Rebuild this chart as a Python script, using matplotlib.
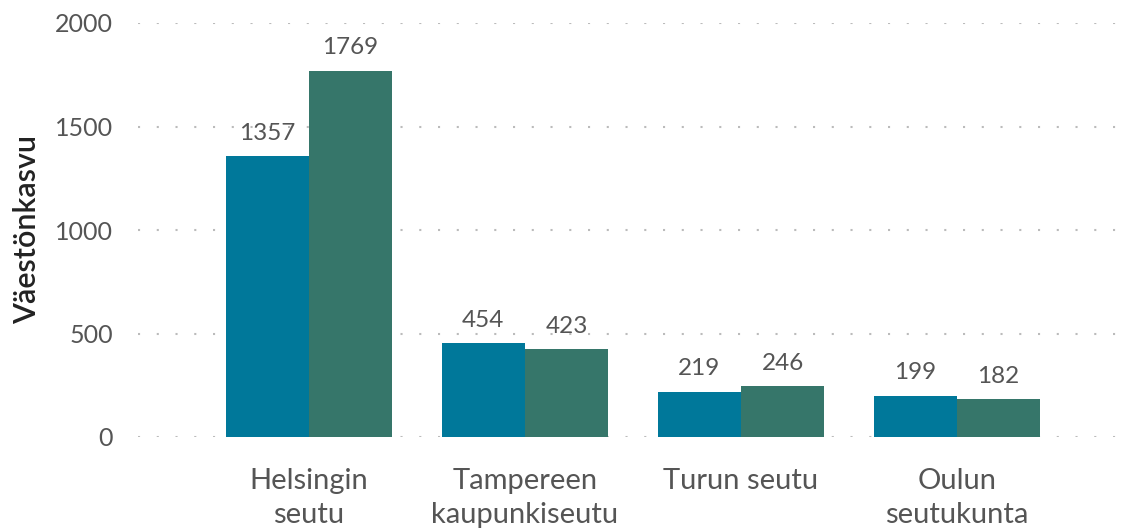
import numpy as np
import matplotlib
matplotlib.use("Agg")
import matplotlib.pyplot as plt

# data
regions = ["Helsingin\nseutu", "Tampereen\nkaupunkiseutu", "Turun seutu", "Oulun\nseutukunta"]
series_a = [1357, 454, 219, 199]
series_b = [1769, 423, 246, 182]
yticks = [0, 500, 1000, 1500, 2000]

BLUE = "#00789A"
GREEN = "#36766A"
GREY = "#555555"

plt.rcParams["font.family"] = ["Lato", "DejaVu Sans"]

fig = plt.figure(figsize=(11.22, 5.31), dpi=100)
ax = fig.add_axes([138 / 1122, 1 - 437 / 531, (1118 - 138) / 1122, 414 / 531])

x = np.arange(len(regions))
w = 0.385
ba = ax.bar(x - w / 2, series_a, w, color=BLUE)
bb = ax.bar(x + w / 2, series_b, w, color=GREEN)
for bars, vals in ((ba, series_a), (bb, series_b)):
    for rect, v in zip(bars, vals):
        ax.annotate(f"{v}", (rect.get_x() + rect.get_width() / 2, v),
                    xytext=(0, 9), textcoords="offset points",
                    ha="center", va="bottom", fontsize=17.5, color=GREY)

ax.set_xlim(-0.79, 3.745)
ax.set_ylim(0, 2000)
ax.set_yticks(yticks)
ax.set_xticks(x)
ax.set_xticklabels(regions, fontsize=21, color=GREY, linespacing=1.4)
ax.tick_params(axis="x", length=0, pad=22)
ax.tick_params(axis="y", length=0, pad=18, labelsize=18, labelcolor=GREY)
for s in ax.spines.values():
    s.set_visible(False)
ax.set_axisbelow(True)
ax.grid(axis="y", color="#BBBBBB", linestyle=(0, (1, 8)), linewidth=1.5)
ax.set_ylabel("Väestönkasvu", fontsize=22, color="#222222", fontweight="semibold")
ax.yaxis.set_label_coords(-0.099, 0.5)

fig.savefig("out.png", dpi=100)
